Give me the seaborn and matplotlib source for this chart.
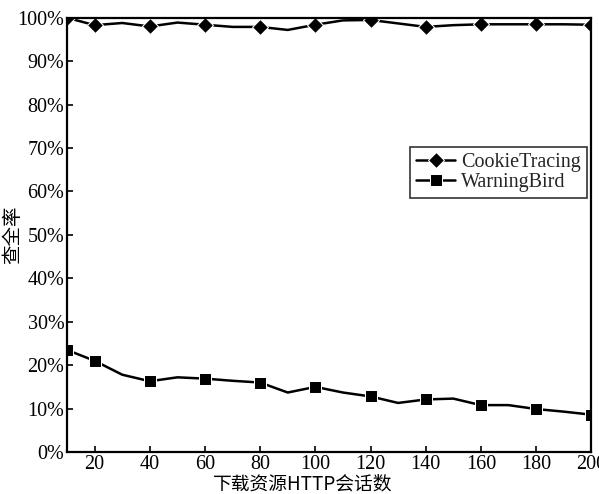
import matplotlib
matplotlib.use("Agg")
import matplotlib.pyplot as plt
import seaborn as sns
import pandas as pd
from matplotlib.ticker import FuncFormatter

sessions = [10, 20, 30, 40, 50, 60, 70, 80, 90, 100, 110, 120, 130, 140, 150, 160, 170, 180, 190, 200]
cookie_tracing = [100.0, 98.3, 98.8, 98.0, 98.9, 98.4, 97.9, 97.9, 97.2, 98.4, 99.4, 99.5, 98.7, 97.9, 98.3, 98.5, 98.5, 98.5, 98.5, 98.4]
warning_bird = [23.5, 21.0, 17.8, 16.3, 17.2, 16.9, 16.4, 16.0, 13.7, 15.0, 13.7, 12.8, 11.3, 12.1, 12.3, 10.8, 10.8, 9.9, 9.3, 8.6]
series_names = ["CookieTracing", "WarningBird"]
x_ticks = [20, 40, 60, 80, 100, 120, 140, 160, 180, 200]
y_ticks = [0, 10, 20, 30, 40, 50, 60, 70, 80, 90, 100]
x_label = "下载资源HTTP会话数"
y_label = "查全率"

sns.set_theme(style="white")
plt.rcParams['font.family'] = ['Liberation Serif', 'Noto Sans CJK SC', 'DejaVu Sans']

fig = plt.figure(figsize=(5.99, 4.94), dpi=100)
ax = fig.add_axes([0.112, 0.085, 0.875, 0.879])

df1 = pd.DataFrame({"x": sessions, "y": cookie_tracing})
df2 = pd.DataFrame({"x": sessions, "y": warning_bird})
mk = [0] + list(range(1, len(sessions), 2))
sns.lineplot(data=df1, x="x", y="y", ax=ax, color="black", linewidth=1.8,
             marker="D", markersize=8.5, markevery=mk, label=series_names[0])
sns.lineplot(data=df2, x="x", y="y", ax=ax, color="black", linewidth=1.8,
             marker="s", markersize=8, markevery=mk, label=series_names[1])

ax.set_xlim(10, 200)
ax.set_ylim(0, 100)
ax.set_xticks(x_ticks)
ax.set_yticks(y_ticks)
ax.yaxis.set_major_formatter(FuncFormatter(lambda v, p: f"{int(v)}%"))
ax.tick_params(direction="in", length=4, width=1.2, labelsize=14.5, colors="black",
               bottom=True, left=True, top=False, right=False, pad=2)
for s in ax.spines.values():
    s.set_color("black")
    s.set_linewidth(1.6)
ax.set_xlabel(x_label, fontsize=13.5, family=['Noto Sans CJK SC', 'Liberation Serif'],
              color="black", va="center")
ax.xaxis.set_label_coords(0.45, -0.073)
ax.set_ylabel(y_label, fontsize=14, family=['Noto Sans CJK SC', 'Liberation Serif'],
              color="black", va="center")
ax.yaxis.set_label_coords(-0.103, 0.5)

leg = ax.legend(loc="upper left", bbox_to_anchor=(0.655, 0.702), fontsize=14.5,
                frameon=True, fancybox=False, handlelength=1.9, borderpad=0.3,
                labelspacing=0.05, handletextpad=0.3, borderaxespad=0)
leg.get_frame().set_edgecolor("black")
leg.get_frame().set_linewidth(1.2)

fig.savefig("out.png", dpi=100)
